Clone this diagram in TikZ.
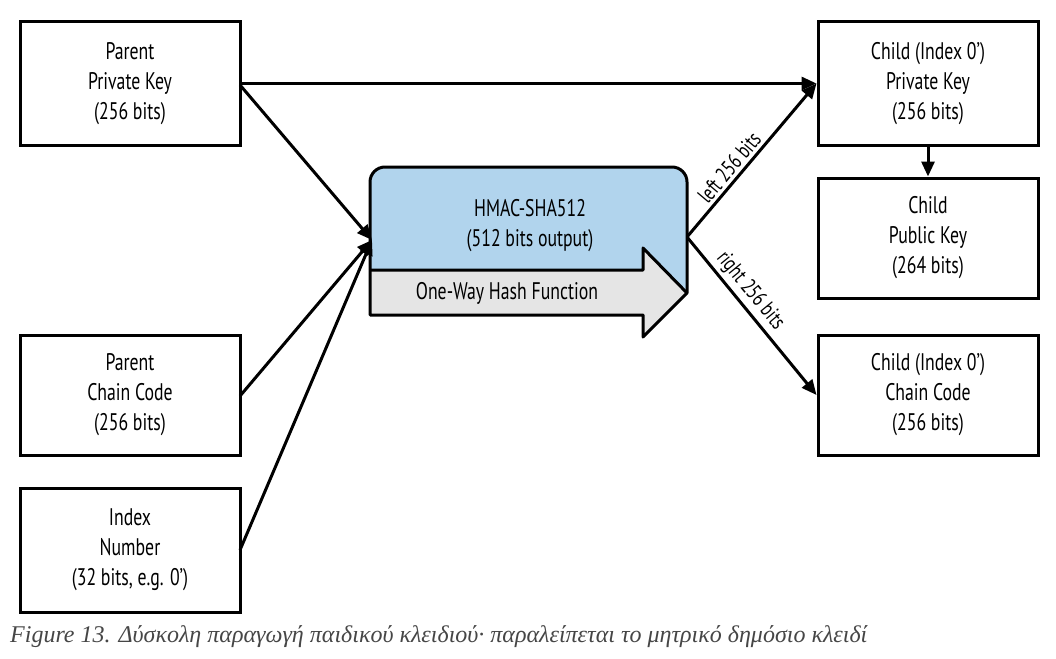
\documentclass[tikz,border=0pt]{standalone}
\usepackage{fontspec}
\setmainfont{PT Sans}[FakeStretch=0.74]
\newfontfamily\capfont{Liberation Serif}
\usetikzlibrary{arrows.meta}
\definecolor{hblue}{RGB}{177,212,237}
\definecolor{hgrey}{RGB}{229,229,229}
\definecolor{capgrey}{RGB}{70,70,70}
\begin{document}
\begin{tikzpicture}[x=1pt,y=-1pt,
  keybox/.style={draw,line width=3pt,minimum width=220pt,minimum height=120pt,align=center,font=\fontsize{24}{30}\selectfont,inner sep=0pt},
  conn/.style={line width=3pt,-{Triangle[length=15pt,width=13pt]}},
  lbl/.style={font=\fontsize{22}{24}\selectfont,inner sep=3pt}]
\useasboundingbox (0,0) rectangle (1056,658);
\node[keybox,minimum height=123pt] (ppk) at (130,83.5) {Parent\\Private Key\\(256 bits)};
\node[keybox] (pcc) at (130,395) {Parent\\Chain Code\\(256 bits)};
\node[keybox,minimum height=124pt] (idx) at (130,550) {Index\\Number\\(32 bits, e.g. 0’)};
\node[keybox,minimum height=123pt] (cpk) at (928,83.5) {Child (Index 0’)\\Private Key\\(256 bits)};
\node[keybox] (cpub) at (928,238) {Child\\Public Key\\(264 bits)};
\node[keybox] (ccc) at (928,395) {Child (Index 0’)\\Chain Code\\(256 bits)};
% HMAC shape
\fill[hblue] (370,270) -- (370,182) arc[start angle=180,end angle=270,radius=15] -- (672,167) arc[start angle=270,end angle=360,radius=15] -- (687,293) -- (643,248) -- (643,270) -- cycle;
\fill[hgrey] (370,270) -- (643,270) -- (643,248) -- (687,293) -- (643,337) -- (643,315) -- (370,315) -- cycle;
\draw[line width=3pt,line join=round] (370,315) -- (370,182) arc[start angle=180,end angle=270,radius=15] -- (672,167) arc[start angle=270,end angle=360,radius=15] -- (687,293) -- (643,337) -- (643,315) -- cycle;
\draw[line width=3pt,line join=round] (370,270) -- (643,270) -- (643,248) -- (687,293);
\node[font=\fontsize{24}{30}\selectfont,align=center] (hmac) at (530,226) {HMAC-SHA512\\(512 bits output)};
\node[font=\fontsize{24}{30}\selectfont] (owh) at (507,293) {One-Way Hash Function};
\coordinate (hin) at (372,240);
\coordinate (hout) at (687,237);
% connectors
\draw[conn] (ppk.east) -- (cpk.west);
\draw[conn] (240,85) -- (hin);
\draw[conn] (240,396) -- (hin);
\draw[conn] (240,550) -- (hin);
\draw[conn] (hout) -- node[lbl,sloped,above,pos=0.4] {left 256 bits} (cpk.west);
\draw[conn] (hout) -- node[lbl,sloped,above,pos=0.4] {right 256 bits} (ccc.west);
\draw[conn] (cpk.south) -- (cpub.north);
\node[anchor=base west,font=\capfont\itshape\fontsize{24}{26}\selectfont,text=capgrey,inner sep=0pt] (cap) at (10,642) {Figure 13. Δύσκολη παραγωγή παιδικού κλειδιού· παραλείπεται το μητρικό δημόσιο κλειδί};
\end{tikzpicture}
\end{document}
